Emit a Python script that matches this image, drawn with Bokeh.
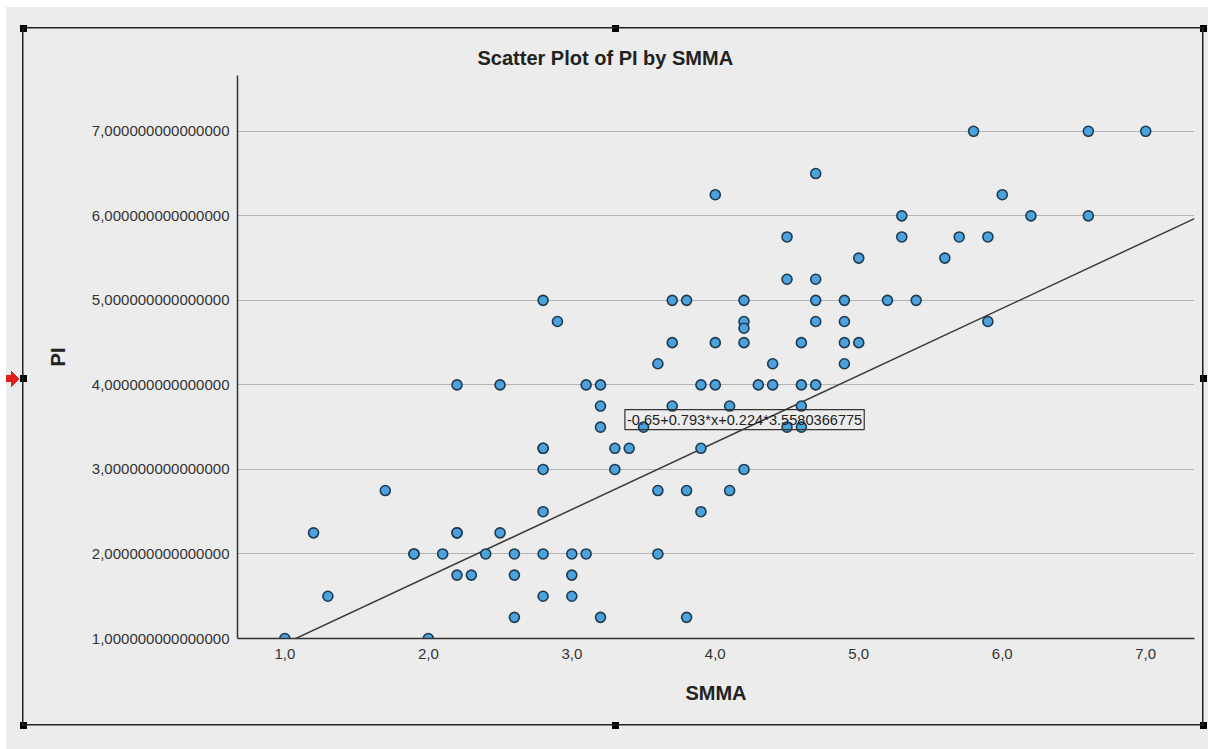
from bokeh.plotting import figure
from bokeh.models import ColumnDataSource, FixedTicker, Label, Range1d
from bokeh.embed import file_html
from bokeh.resources import INLINE

# ---------------- data ----------------
smma = [1.0, 1.2, 1.3, 1.7, 1.9, 1.9, 2.0, 2.1, 2.2, 2.2, 2.2, 2.2, 2.3, 2.4,
        2.5, 2.5, 2.6, 2.6, 2.6, 2.8, 2.8, 2.8, 2.8, 2.8, 2.8, 2.8, 2.9, 3.0,
        3.0, 3.0, 3.1, 3.1, 3.2, 3.2, 3.2, 3.2, 3.3, 3.3, 3.4, 3.5, 3.6, 3.6,
        3.6, 3.7, 3.7, 3.7, 3.8, 3.8, 3.8, 3.9, 3.9, 3.9, 4.0, 4.0, 4.0, 4.1,
        4.1, 4.2, 4.2, 4.2, 4.2, 4.2, 4.3, 4.4, 4.4, 4.5, 4.5, 4.5, 4.6, 4.6,
        4.6, 4.6, 4.7, 4.7, 4.7, 4.7, 4.7, 4.9, 4.9, 4.9, 4.9, 5.0, 5.0, 5.2,
        5.3, 5.3, 5.4, 5.6, 5.7, 5.8, 5.9, 5.9, 6.0, 6.2, 6.6, 6.6, 7.0]
pi = [1.0, 2.25, 1.5, 2.75, 2.0, 2.0, 1.0, 2.0, 4.0, 2.25, 2.25, 1.75, 1.75, 2.0,
      4.0, 2.25, 2.0, 1.75, 1.25, 5.0, 3.25, 3.25, 3.0, 2.5, 2.0, 1.5, 4.75, 2.0,
      1.75, 1.5, 4.0, 2.0, 4.0, 3.75, 3.5, 1.25, 3.25, 3.0, 3.25, 3.5, 4.25, 2.75,
      2.0, 5.0, 4.5, 3.75, 5.0, 2.75, 1.25, 4.0, 3.25, 2.5, 6.25, 4.5, 4.0, 3.75,
      2.75, 5.0, 4.75, 4.67, 4.5, 3.0, 4.0, 4.25, 4.0, 5.75, 5.25, 3.5, 4.5, 4.0,
      3.75, 3.5, 6.5, 5.25, 5.0, 4.75, 4.0, 5.0, 4.75, 4.5, 4.25, 5.5, 4.5, 5.0,
      6.0, 5.75, 5.0, 5.5, 5.75, 7.0, 5.75, 4.75, 6.25, 6.0, 7.0, 6.0, 7.0]

x_ticks = [1, 2, 3, 4, 5, 6, 7]
x_tick_labels = ["1,0", "2,0", "3,0", "4,0", "5,0", "6,0", "7,0"]
y_ticks = [1, 2, 3, 4, 5, 6, 7]
y_tick_labels = ["1,000000000000000", "2,000000000000000", "3,000000000000000",
                 "4,000000000000000", "5,000000000000000", "6,000000000000000",
                 "7,000000000000000"]

fit_intercept = -0.65
fit_slope = 0.793
fit_coef2 = 0.224
fit_const = 3.5580366775
fit_label = "-0.65+0.793*x+0.224*3.5580366775"

title_text = "Scatter Plot of PI by SMMA"
x_label = "SMMA"
y_label = "PI"

# ---------------- decoration (SPSS selection frame, drawn with CSS) ----------------
W, H = 1208, 749
layers = []  # (css image, width, height, left, top)


def solid(c):
    return f"linear-gradient({c},{c})"


layers.append((solid("#ffffff"), W, 7, 0, 0))          # white strip top
layers.append((solid("#ffffff"), 6, H, 0, 0))          # white strip left
layers.append((solid("#222222"), 1181, 1.5, 23, 27.25))   # frame top
layers.append((solid("#222222"), 1181, 1.5, 23, 724.25))  # frame bottom
layers.append((solid("#222222"), 1.5, 698, 22.25, 27.5))  # frame left
layers.append((solid("#222222"), 1.5, 698, 1202.25, 27.5))  # frame right
for hx, hy in [(23, 28), (615, 28), (1203, 28), (23, 378), (1203, 378),
               (23, 725), (615, 725), (1203, 725)]:
    layers.append((solid("#000000"), 7, 7, hx - 3.5, hy - 3.5))
RED = "#e0201c"
layers.append((solid(RED), 9, 7, 3, 374.5))  # arrow shaft
layers.append((f"linear-gradient(to top right,{RED} 50%,transparent 50%)", 9, 8, 11, 370.5))
layers.append((f"linear-gradient(to bottom right,{RED} 50%,transparent 50%)", 9, 8, 11, 378.5))

css = (":host::after{content:'';position:absolute;left:0;top:0;"
       f"width:{W}px;height:{H}px;pointer-events:none;z-index:10;"
       "background-repeat:no-repeat;"
       "background-image:" + ",".join(l[0] for l in layers) + ";"
       "background-size:" + ",".join(f"{l[1]}px {l[2]}px" for l in layers) + ";"
       "background-position:" + ",".join(f"{l[3]}px {l[4]}px" for l in layers) + ";}")

# ---------------- figure ----------------
FONT = "Liberation Sans"
BG = "#ececec"
x0, x1 = 0.67, 7.34
y0, y1 = 1.0, 7.66

p = figure(width=W, height=H, output_backend="svg", toolbar_location=None,
           x_range=Range1d(x0, x1), y_range=Range1d(y0, y1),
           min_border_left=237, min_border_right=14, min_border_top=75,
           min_border_bottom=111, background_fill_color=BG, border_fill_color=BG,
           stylesheets=[css])
p.outline_line_color = None

p.title.text = title_text
p.title.text_font = FONT
p.title.text_font_size = "20px"
p.title.text_font_style = "bold"
p.title.text_color = "#222222"
p.title.align = "left"
p.title.offset = 240
p.title.standoff = 14

# axes
for ax in (p.xaxis[0], p.yaxis[0]):
    ax.axis_line_color = "#333333"
    ax.axis_line_width = 1.5
    ax.major_tick_line_color = None
    ax.minor_tick_line_color = None
    ax.major_tick_out = 0
    ax.major_tick_in = 0
    ax.major_label_text_font = FONT
    ax.major_label_text_font_size = "15px"
    ax.major_label_text_color = "#333333"
    ax.axis_label_text_font = FONT
    ax.axis_label_text_font_size = "20px"
    ax.axis_label_text_font_style = "bold"
    ax.axis_label_text_color = "#222222"
    ax.axis_label_standoff = 20

p.xaxis[0].ticker = FixedTicker(ticks=x_ticks)
p.xaxis[0].major_label_overrides = dict(zip(x_ticks, x_tick_labels))
p.xaxis[0].major_label_standoff = 10
p.xaxis[0].axis_label = x_label

p.yaxis[0].ticker = FixedTicker(ticks=y_ticks)
p.yaxis[0].major_label_overrides = dict(zip(y_ticks, y_tick_labels))
p.yaxis[0].major_label_standoff = 8
p.yaxis[0].axis_label = y_label

p.xgrid.grid_line_color = None
p.ygrid.grid_line_color = "#b4b4b4"
p.ygrid.grid_line_width = 1

# regression line
line_x = [x0, x1]
line_y = [fit_intercept + fit_slope * v + fit_coef2 * fit_const for v in line_x]
p.line(line_x, line_y, line_color="#3a3a3a", line_width=1.5)

# points
src = ColumnDataSource(data=dict(x=smma, y=pi))
p.scatter("x", "y", source=src, size=10, fill_color="#4ca2dd",
          line_color="#1d3a4f", line_width=1.6)

# equation label
p.add_layout(Label(x=3.37, y=3.59, text=fit_label, text_font=FONT,
                   text_font_size="14.6px", text_color="#222222",
                   text_baseline="middle", text_align="left",
                   border_line_color="#333333", border_line_width=1.2,
                   background_fill_color=None, padding=2))

open("out.html", "w").write(file_html(p, INLINE))
